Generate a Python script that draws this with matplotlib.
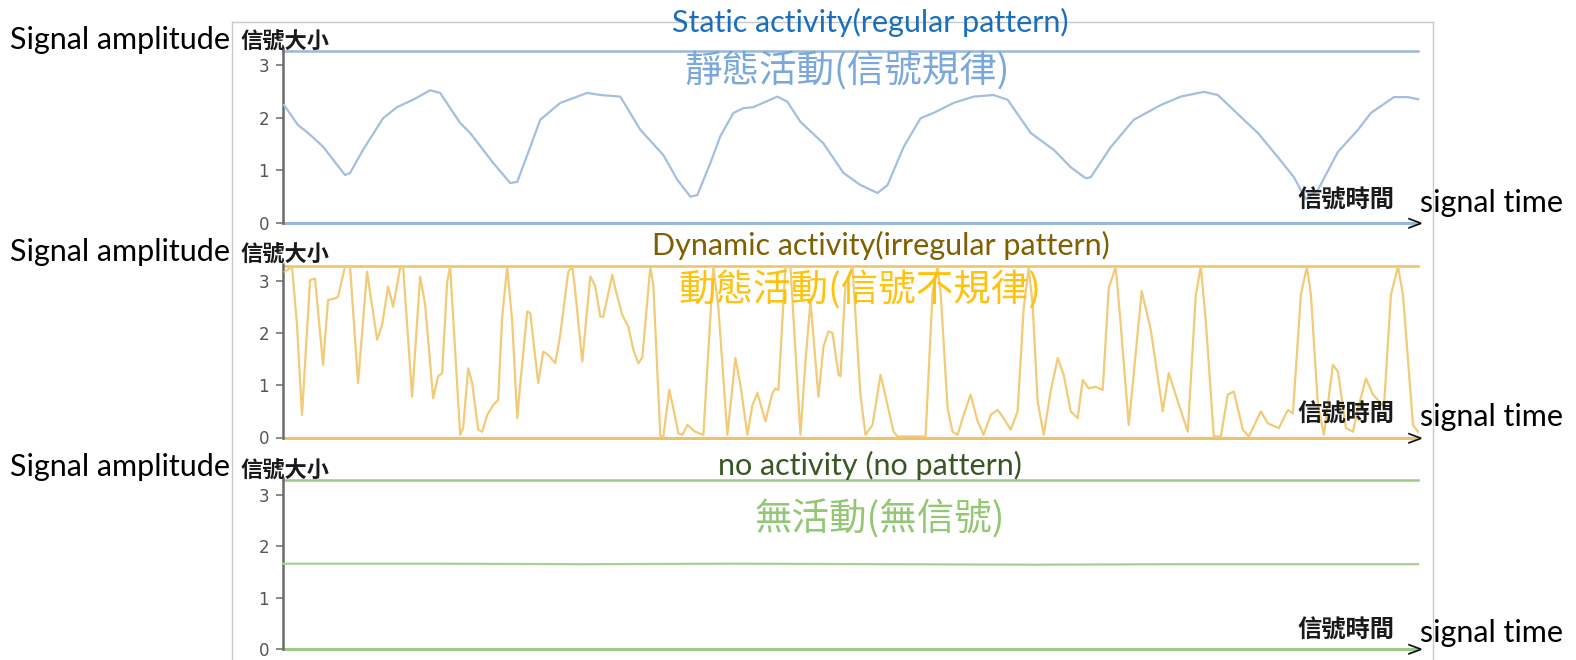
import matplotlib
matplotlib.use("Agg")
import matplotlib.pyplot as plt
from matplotlib.lines import Line2D

W, H = 1576, 660
plt.rcParams['font.family'] = ['Lato', 'Noto Sans CJK TC', 'DejaVu Sans']

# ---------------- data ----------------
yticks = [0, 1, 2, 3]
ytick_labels = ["0", "1", "2", "3"]

static_t = [1, 15, 25, 40, 62, 67, 80, 100, 114, 130, 147, 157, 177, 187, 210, 227, 234, 247, 257, 277,
            304, 317, 337, 357, 380, 394, 407, 414, 427, 437, 450, 460, 470, 494, 504, 517, 540, 560, 577, 594,
            604, 620, 637, 650, 670, 690, 710, 724, 747, 770, 787, 802, 807, 827, 850, 877, 897, 920, 934, 960,
            974, 994, 1010, 1022, 1034, 1054, 1074, 1087, 1110, 1124, 1134]
static_v = [2.24, 1.86, 1.71, 1.45, 0.91, 0.95, 1.39, 1.99, 2.2, 2.34, 2.52, 2.47, 1.9, 1.71, 1.14, 0.76, 0.78, 1.44, 1.96, 2.28,
            2.47, 2.43, 2.4, 1.77, 1.29, 0.82, 0.5, 0.53, 1.14, 1.65, 2.09, 2.18, 2.2, 2.4, 2.3, 1.92, 1.51, 0.95, 0.72, 0.57,
            0.72, 1.44, 1.99, 2.09, 2.28, 2.4, 2.43, 2.34, 1.71, 1.39, 1.06, 0.85, 0.87, 1.44, 1.96, 2.24, 2.4, 2.49, 2.43, 1.96,
            1.71, 1.25, 0.87, 0.45, 0.63, 1.35, 1.77, 2.09, 2.39, 2.39, 2.35]

dynamic_t = [2, 9, 14, 19, 27, 32, 40, 45, 52, 55, 62, 67, 75, 84, 94, 99, 105, 110, 117, 120,
             129, 137, 142, 150, 155, 159, 164, 167, 177, 180, 185, 189, 195, 199, 204, 210, 215, 219, 224, 229,
             234, 237, 244, 247, 255, 260, 265, 272, 277, 285, 289, 292, 299, 307, 312, 317, 320, 329, 332, 339,
             345, 350, 355, 359, 367, 370, 377, 380, 386, 390, 395, 399, 404, 412, 420, 430, 435, 444, 452, 457,
             464, 469, 474, 482, 489, 492, 495, 502, 507, 517, 522, 527, 535, 540, 545, 549, 555, 557, 562, 569,
             577, 582, 589, 597, 604, 610, 614, 642, 649, 654, 657, 664, 669, 674, 680, 687, 694, 700, 707, 714,
             720, 727, 734, 740, 745, 749, 754, 760, 767, 774, 780, 787, 794, 799, 805, 812, 819, 825, 832, 837,
             845, 858, 867, 879, 885, 894, 904, 912, 917, 922, 930, 937, 944, 950, 959, 965, 977, 984, 995, 1004,
             1009, 1017, 1023, 1027, 1034, 1040, 1049, 1054, 1062, 1069, 1075, 1082, 1089, 1100, 1107, 1114, 1119, 1129, 1134]
dynamic_v = [3.17, 3.27, 2.15, 0.43, 3.01, 3.04, 1.39, 2.63, 2.66, 2.69, 3.27, 3.27, 1.04, 3.17, 1.87, 2.15, 2.89, 2.5, 3.24, 3.27,
             0.78, 3.08, 2.54, 0.75, 1.17, 1.23, 2.98, 3.27, 0.05, 0.18, 1.32, 1.04, 0.15, 0.11, 0.43, 0.62, 0.72, 2.31, 3.27, 2.22,
             0.37, 1.01, 2.41, 2.38, 1.04, 1.64, 1.58, 1.42, 1.96, 3.17, 3.27, 2.79, 1.45, 3.08, 2.89, 2.31, 2.31, 3.11, 2.85, 2.34,
             2.12, 1.68, 1.42, 1.53, 3.27, 2.92, 0.02, 0.02, 0.91, 0.56, 0.08, 0.05, 0.24, 0.11, 0.05, 3.27, 2.48, 0.05, 1.52, 1.01,
             0.05, 0.62, 0.85, 0.31, 0.85, 0.94, 0.91, 3.27, 3.27, 0.05, 1.45, 2.6, 0.78, 1.74, 2.03, 2.0, 1.2, 1.17, 2.95, 3.27,
             0.8, 0.05, 0.24, 1.2, 0.62, 0.11, 0.02, 0.02, 2.79, 3.27, 2.79, 0.56, 0.11, 0.05, 0.43, 0.82, 0.31, 0.05, 0.43, 0.53,
             0.37, 0.15, 0.5, 2.47, 3.24, 2.54, 0.69, 0.05, 0.88, 1.52, 1.2, 0.5, 0.37, 1.1, 0.94, 0.97, 0.91, 2.85, 3.27, 2.15,
             0.24, 2.8, 2.06, 0.5, 1.23, 0.69, 0.11, 2.73, 3.27, 2.22, 0.02, 0.02, 0.82, 0.88, 0.15, 0.02, 0.5, 0.27, 0.18, 0.53,
             0.46, 2.73, 3.27, 2.73, 0.62, 0.05, 1.39, 1.26, 0.18, 0.11, 0.62, 1.13, 0.82, 0.59, 2.73, 3.27, 2.73, 0.24, 0.11]

none_t = [0, 150, 300, 450, 600, 750, 900, 1050, 1134]
none_v = [1.66, 1.66, 1.65, 1.66, 1.65, 1.64, 1.65, 1.65, 1.65]

ceiling = [3.27, 3.28, 3.29]       # upper reference line of each panel
t_end = 1134

panel_t = [static_t, dynamic_t, none_t]
panel_v = [static_v, dynamic_v, none_v]
titles_en = ["Static activity(regular pattern)", "Dynamic activity(irregular pattern)", "no activity (no pattern)"]
titles_zh = ["靜態活動(信號規律)", "動態活動(信號不規律)", "無活動(無信號)"]
ylabel_en = "Signal amplitude"
ylabel_zh = "信號大小"
xlabel_zh = "信號時間"
xlabel_en = "signal time"

# ---------------- styles ----------------
line_colors = ["#a3bfdf", "#f1cb78", "#a6cf92"]
ref_colors = ["#9ab8db", "#ecc467", "#9cc98a"]
en_colors = ["#1a6fbd", "#7f6000", "#385723"]
zh_colors = ["#74a3d8", "#ffc000", "#8cc46c"]

# pixel geometry for each panel: (y pixel of zero, pixels per unit)
zero_px = [223, 437.5, 649]
unit_px = [52.67, 52.3, 51.4]
x0_px, x1_px = 283, 1418
ytop = 3.32

en_title_pos = [(870, 22), (881, 245), (870, 465)]
zh_title_pos = [(847, 72), (860, 291), (880, 520)]
ylab_y = [40, 252, 467]
ylab_zh_y = [42, 255, 471]
xlab_y = [201, 415, 631]

fig = plt.figure(figsize=(W / 100, H / 100), dpi=100)
fig.patch.set_facecolor("white")

def fx(x):
    return x / W

def fy(y):
    return 1 - y / H

# outer light-gray frame
frame_kw = dict(color="#c8c8c8", lw=1.0, transform=fig.transFigure)
fig.add_artist(Line2D([fx(232), fx(232)], [fy(22), fy(660)], **frame_kw))
fig.add_artist(Line2D([fx(232), fx(1433)], [fy(22), fy(22)], **frame_kw))
fig.add_artist(Line2D([fx(1433), fx(1433)], [fy(22), fy(660)], **frame_kw))

for i in range(3):
    h = ytop * unit_px[i]
    ax = fig.add_axes([fx(x0_px), fy(zero_px[i]), (x1_px - x0_px) / W, h / H])
    ax.set_xlim(0, t_end)
    ax.set_ylim(0, ytop)
    ax.patch.set_alpha(0)
    for s in ["top", "right", "bottom"]:
        ax.spines[s].set_visible(False)
    ax.spines["left"].set_color("#6b6b6b")
    ax.spines["left"].set_linewidth(1.8)
    ax.set_xticks([])
    ax.set_yticks(yticks)
    ax.set_yticklabels(ytick_labels, family="DejaVu Sans")
    ax.tick_params(axis="y", length=5, width=1.2, color="#777777", labelsize=12,
                   labelcolor="#555555", pad=5)

    # reference lines (zero and ceiling)
    ax.plot([0, t_end], [0, 0], color=ref_colors[i], lw=2.2, clip_on=False, zorder=2)
    ax.plot([0, t_end], [ceiling[i], ceiling[i]], color=ref_colors[i], lw=1.8,
            clip_on=False, zorder=2)
    # signal
    ax.plot(panel_t[i], panel_v[i], color=line_colors[i], lw=1.6, clip_on=False,
            solid_joinstyle="round", zorder=3)

    # texts
    fig.text(fx(en_title_pos[i][0]), fy(en_title_pos[i][1]), titles_en[i], color=en_colors[i],
             fontsize=22, ha="center", va="center")
    fig.text(fx(zh_title_pos[i][0]), fy(zh_title_pos[i][1]), titles_zh[i], color=zh_colors[i],
             fontsize=27, ha="center", va="center", family=["Noto Sans CJK TC"], weight="medium",
             alpha=0.95)
    fig.text(fx(10), fy(ylab_y[i]), ylabel_en, color="black", fontsize=22, ha="left", va="center")
    fig.text(fx(240), fy(ylab_zh_y[i]), ylabel_zh, color="#1a1a1a", fontsize=16, ha="left",
             va="center", family=["Noto Sans CJK TC"], weight="bold")
    fig.text(fx(1297), fy(xlab_y[i]), xlabel_zh, color="#1a1a1a", fontsize=17.5, ha="left",
             va="center", family=["Noto Sans CJK TC"], weight="bold")
    fig.text(fx(1420), fy(xlab_y[i] + 2), xlabel_en, color="black", fontsize=22, ha="left",
             va="center")
    # arrow head at the end of the time axis
    fig.text(fx(1414), fy(zero_px[i] + 1), ">", color="#111111", fontsize=15, ha="center",
             va="center", family=["DejaVu Sans"])

fig.savefig("out.png", dpi=100, facecolor="white")
